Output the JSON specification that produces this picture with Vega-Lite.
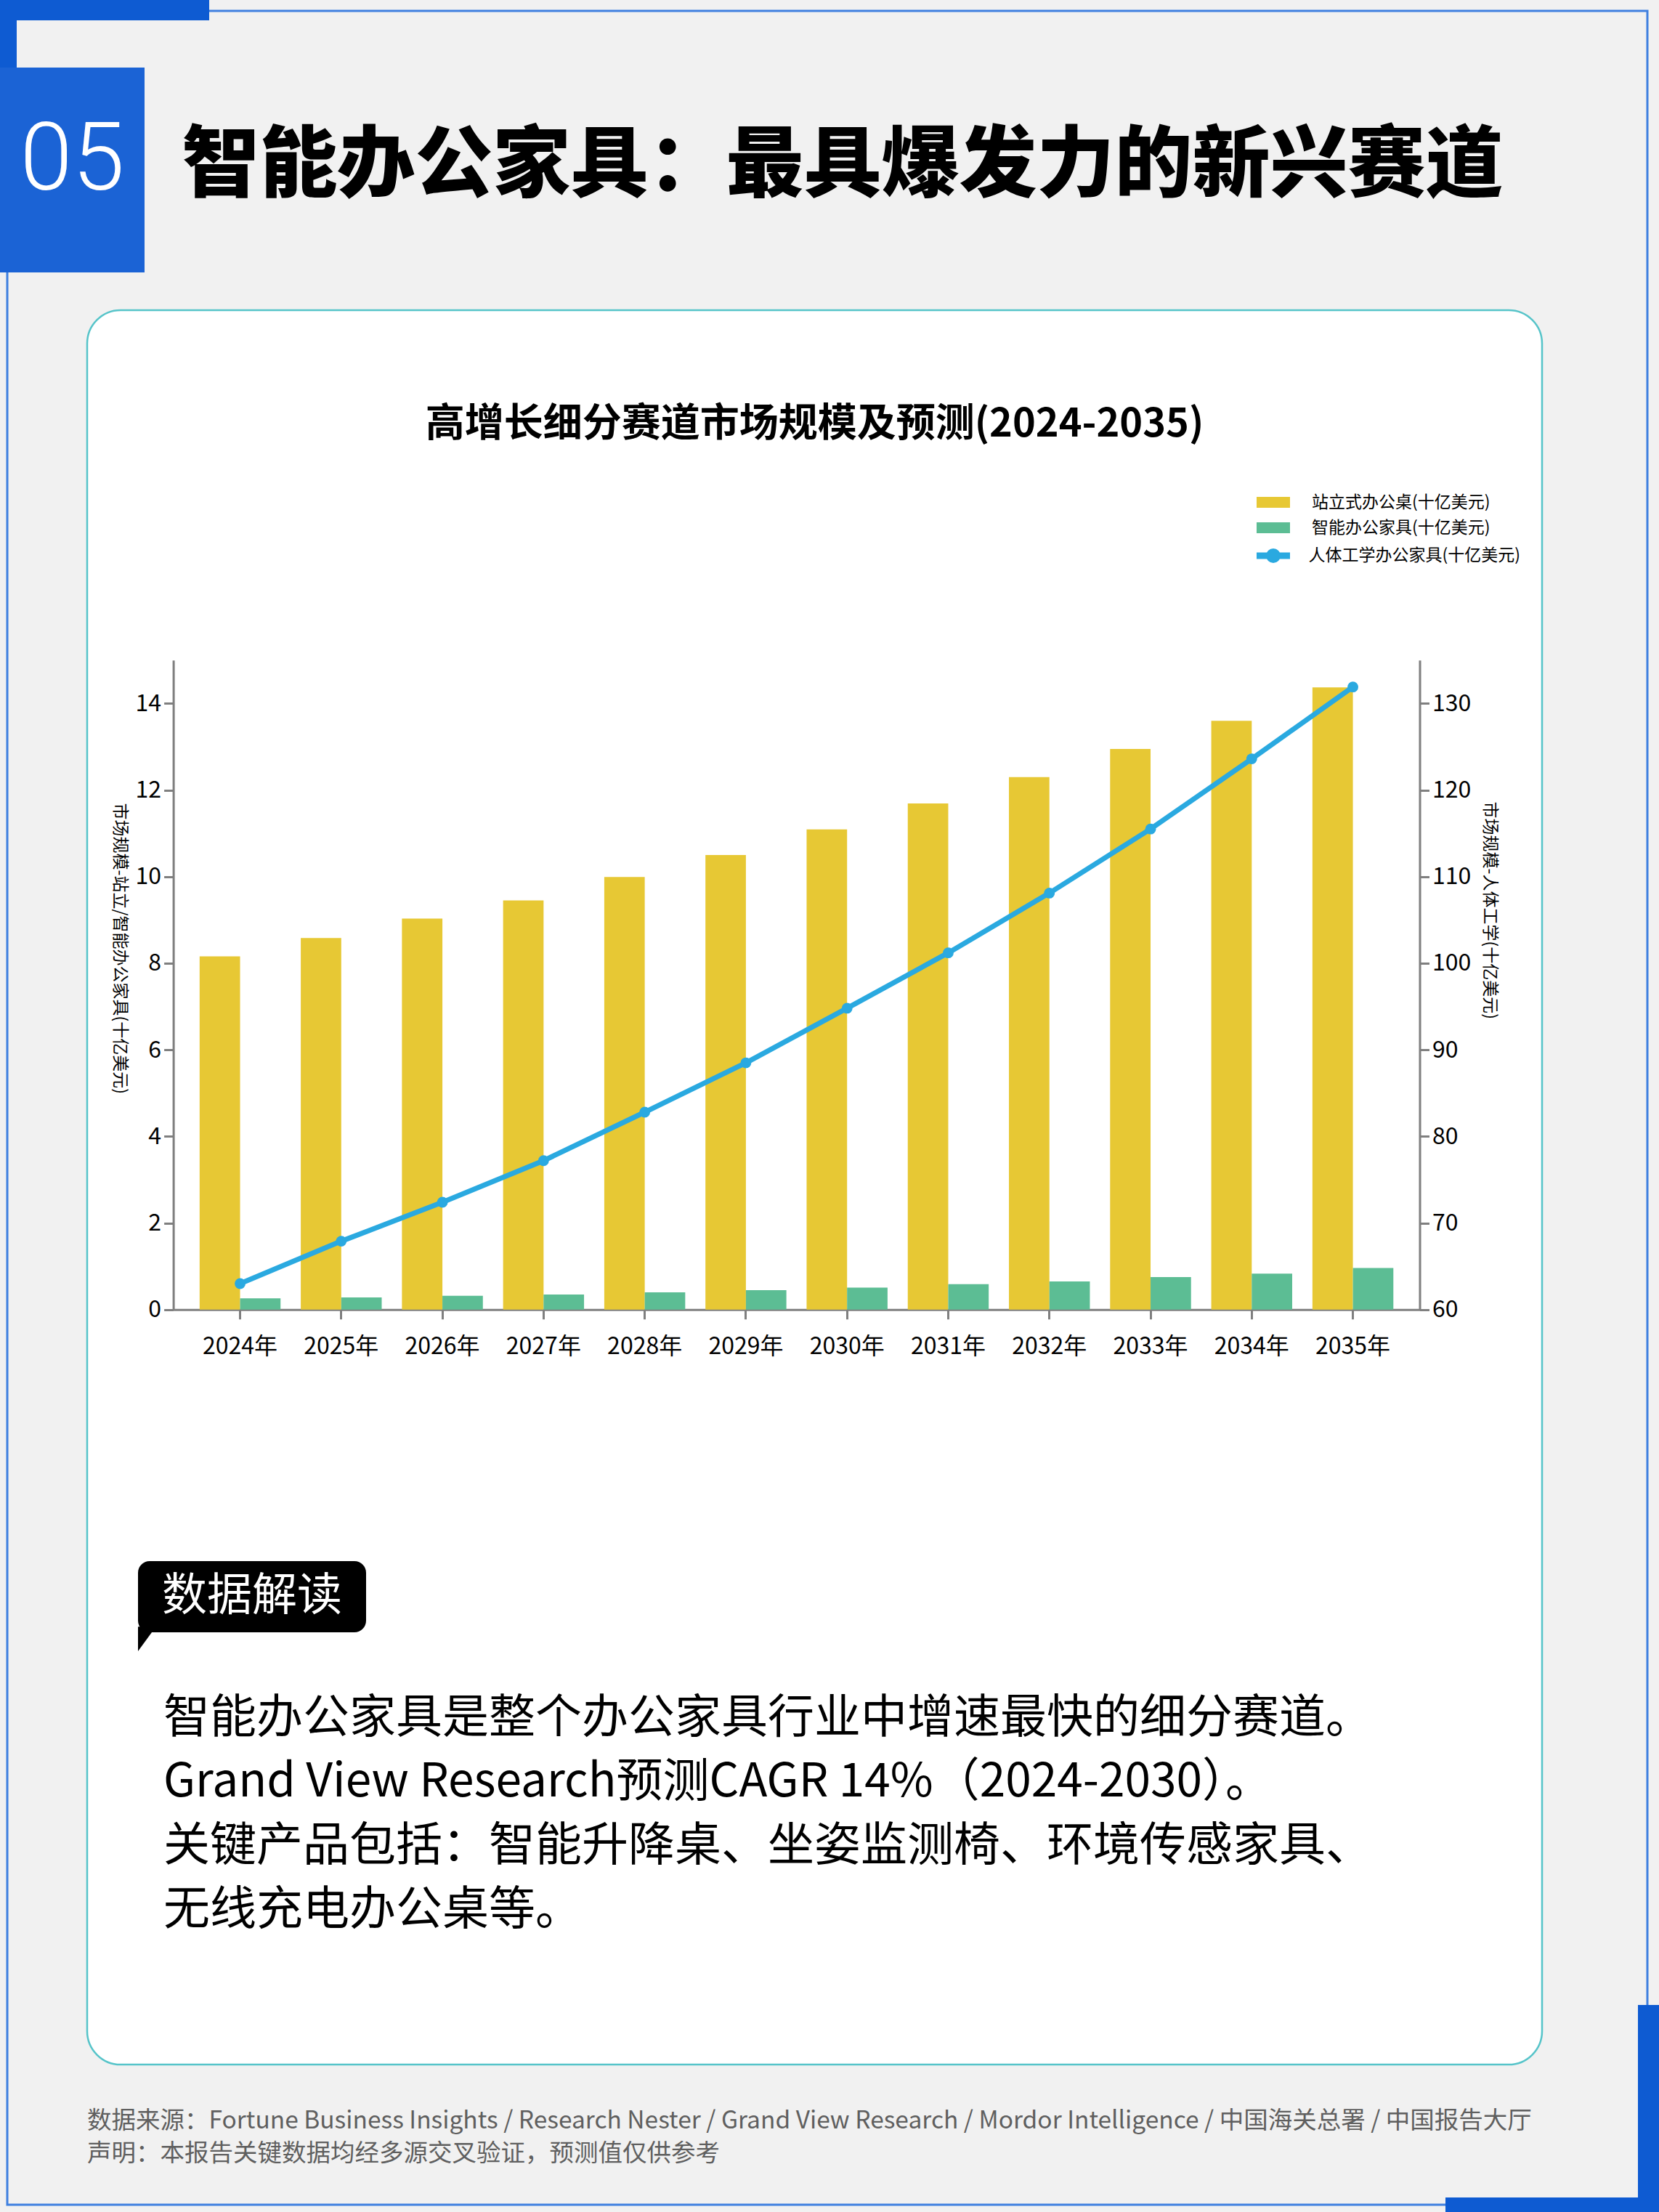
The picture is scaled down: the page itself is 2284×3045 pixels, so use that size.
{
  "$schema": "https://vega.github.io/schema/vega-lite/v6.json",
  "background": "#f1f1f1",
  "padding": 0,
  "datasets": {
    "badge": [{"num": "05"}],
    "heading": [{"text": "智能办公家具：最具爆发力的新兴赛道"}],
    "frame": [{"piece": "frame"}],
    "bars": [
      {"year": "2024年", "series": "站立式办公桌(十亿美元)", "value": 8.16},
      {"year": "2025年", "series": "站立式办公桌(十亿美元)", "value": 8.58},
      {"year": "2026年", "series": "站立式办公桌(十亿美元)", "value": 9.03},
      {"year": "2027年", "series": "站立式办公桌(十亿美元)", "value": 9.45},
      {"year": "2028年", "series": "站立式办公桌(十亿美元)", "value": 9.99},
      {"year": "2029年", "series": "站立式办公桌(十亿美元)", "value": 10.50},
      {"year": "2030年", "series": "站立式办公桌(十亿美元)", "value": 11.09},
      {"year": "2031年", "series": "站立式办公桌(十亿美元)", "value": 11.69},
      {"year": "2032年", "series": "站立式办公桌(十亿美元)", "value": 12.30},
      {"year": "2033年", "series": "站立式办公桌(十亿美元)", "value": 12.95},
      {"year": "2034年", "series": "站立式办公桌(十亿美元)", "value": 13.60},
      {"year": "2035年", "series": "站立式办公桌(十亿美元)", "value": 14.37},
      {"year": "2024年", "series": "智能办公家具(十亿美元)", "value": 0.26},
      {"year": "2025年", "series": "智能办公家具(十亿美元)", "value": 0.28},
      {"year": "2026年", "series": "智能办公家具(十亿美元)", "value": 0.32},
      {"year": "2027年", "series": "智能办公家具(十亿美元)", "value": 0.35},
      {"year": "2028年", "series": "智能办公家具(十亿美元)", "value": 0.40},
      {"year": "2029年", "series": "智能办公家具(十亿美元)", "value": 0.45},
      {"year": "2030年", "series": "智能办公家具(十亿美元)", "value": 0.51},
      {"year": "2031年", "series": "智能办公家具(十亿美元)", "value": 0.59},
      {"year": "2032年", "series": "智能办公家具(十亿美元)", "value": 0.65},
      {"year": "2033年", "series": "智能办公家具(十亿美元)", "value": 0.75},
      {"year": "2034年", "series": "智能办公家具(十亿美元)", "value": 0.83},
      {"year": "2035年", "series": "智能办公家具(十亿美元)", "value": 0.96}
    ],
    "line": [
      {"year": "2024年", "series": "人体工学办公家具(十亿美元)", "value": 63.0},
      {"year": "2025年", "series": "人体工学办公家具(十亿美元)", "value": 67.9},
      {"year": "2026年", "series": "人体工学办公家具(十亿美元)", "value": 72.4},
      {"year": "2027年", "series": "人体工学办公家具(十亿美元)", "value": 77.2},
      {"year": "2028年", "series": "人体工学办公家具(十亿美元)", "value": 82.8},
      {"year": "2029年", "series": "人体工学办公家具(十亿美元)", "value": 88.5},
      {"year": "2030年", "series": "人体工学办公家具(十亿美元)", "value": 94.8},
      {"year": "2031年", "series": "人体工学办公家具(十亿美元)", "value": 101.2},
      {"year": "2032年", "series": "人体工学办公家具(十亿美元)", "value": 108.1},
      {"year": "2033年", "series": "人体工学办公家具(十亿美元)", "value": 115.5},
      {"year": "2034年", "series": "人体工学办公家具(十亿美元)", "value": 123.6},
      {"year": "2035年", "series": "人体工学办公家具(十亿美元)", "value": 131.9}
    ],
    "tag": [{"tag": "数据解读"}],
    "para": [
      {"part": "解读", "n": 1, "text": "智能办公家具是整个办公家具行业中增速最快的细分赛道。"},
      {"part": "解读", "n": 2, "text": "Grand View Research预测CAGR 14%（2024-2030）。"},
      {"part": "解读", "n": 3, "text": "关键产品包括：智能升降桌、坐姿监测椅、环境传感家具、"},
      {"part": "解读", "n": 4, "text": "无线充电办公桌等。"}
    ],
    "footer": [
      {"part": "来源", "n": 1, "text": "数据来源：Fortune Business Insights / Research Nester / Grand View Research / Mordor Intelligence / 中国海关总署 / 中国报告大厅"},
      {"part": "来源", "n": 2, "text": "声明：本报告关键数据均经多源交叉验证，预测值仅供参考"}
    ]
  },
  "spacing": 52,
  "bounds": "flush",
  "center": true,
  "vconcat": [
    {
      "width": 2243,
      "height": 282,
      "layer": [
        {
          "data": {"name": "frame"},
          "mark": {"type": "rect", "fill": null, "stroke": "#3f80e0", "strokeWidth": 3},
          "encoding": {
            "x": {"field": "piece", "type": "nominal", "scale": {"type": "band", "range": [10, 2268], "paddingInner": 0, "paddingOuter": 0}, "axis": null},
            "y": {"field": "piece", "type": "nominal", "scale": {"type": "band", "range": [-78, 2942], "paddingInner": 0, "paddingOuter": 0}, "axis": null}
          }
        },
        {
          "data": {"name": "frame"},
          "mark": {"type": "rect", "color": "#0e5bd2", "opacity": 1},
          "encoding": {
            "x": {"field": "piece", "type": "nominal", "scale": {"type": "band", "range": [0, 288], "paddingInner": 0, "paddingOuter": 0}, "axis": null},
            "y": {"field": "piece", "type": "nominal", "scale": {"type": "band", "range": [-93, -65], "paddingInner": 0, "paddingOuter": 0}, "axis": null}
          }
        },
        {
          "data": {"name": "frame"},
          "mark": {"type": "rect", "color": "#0e5bd2", "opacity": 1},
          "encoding": {
            "x": {"field": "piece", "type": "nominal", "scale": {"type": "band", "range": [0, 23], "paddingInner": 0, "paddingOuter": 0}, "axis": null},
            "y": {"field": "piece", "type": "nominal", "scale": {"type": "band", "range": [-66, 0], "paddingInner": 0, "paddingOuter": 0}, "axis": null}
          }
        },
        {
          "data": {"name": "frame"},
          "mark": {"type": "rect", "color": "#0e5bd2", "opacity": 1},
          "encoding": {
            "x": {"field": "piece", "type": "nominal", "scale": {"type": "band", "range": [2255, 2284], "paddingInner": 0, "paddingOuter": 0}, "axis": null},
            "y": {"field": "piece", "type": "nominal", "scale": {"type": "band", "range": [2667, 2952], "paddingInner": 0, "paddingOuter": 0}, "axis": null}
          }
        },
        {
          "data": {"name": "frame"},
          "mark": {"type": "rect", "color": "#0e5bd2", "opacity": 1},
          "encoding": {
            "x": {"field": "piece", "type": "nominal", "scale": {"type": "band", "range": [1990, 2284], "paddingInner": 0, "paddingOuter": 0}, "axis": null},
            "y": {"field": "piece", "type": "nominal", "scale": {"type": "band", "range": [2932, 2952], "paddingInner": 0, "paddingOuter": 0}, "axis": null}
          }
        },
        {
          "data": {"name": "badge"},
          "mark": {"type": "rect", "color": "#1b63d5", "opacity": 1},
          "encoding": {
            "x": {"field": "num", "type": "nominal", "scale": {"type": "band", "range": [0, 199], "paddingInner": 0, "paddingOuter": 0}, "axis": null},
            "y": {"field": "num", "type": "nominal", "scale": {"type": "band", "range": [0, 282], "paddingInner": 0, "paddingOuter": 0}, "axis": null}
          }
        },
        {
          "data": {"name": "badge"},
          "mark": {"type": "text", "font": "Roboto", "fontWeight": 300, "fontSize": 130, "color": "#ffffff", "align": "center", "baseline": "middle", "dy": -12},
          "encoding": {
            "x": {"field": "num", "type": "nominal", "scale": {"type": "band", "range": [0, 199], "paddingInner": 0, "paddingOuter": 0}, "axis": null},
            "y": {"field": "num", "type": "nominal", "scale": {"type": "band", "range": [0, 282], "paddingInner": 0, "paddingOuter": 0}, "axis": null},
            "text": {"field": "num"}
          }
        },
        {
          "data": {"name": "heading"},
          "mark": {"type": "text", "fontSize": 107, "fontWeight": 900, "color": "#000000", "align": "center", "baseline": "middle", "dy": -4},
          "encoding": {
            "x": {"field": "text", "type": "nominal", "scale": {"type": "band", "range": [219, 2101], "paddingInner": 0, "paddingOuter": 0}, "axis": null},
            "y": {"field": "text", "type": "nominal", "scale": {"type": "band", "range": [0, 282], "paddingInner": 0, "paddingOuter": 0}, "axis": null},
            "text": {"field": "text"}
          }
        }
      ],
      "resolve": {"scale": {"x": "independent", "y": "independent"}}
    },
    {
      "width": 2003,
      "height": 2415,
      "view": {"fill": "#ffffff", "stroke": "#56c4c9", "strokeWidth": 2.5, "cornerRadius": 46},
      "title": {
        "text": "高增长细分赛道市场规模及预测(2024-2035)",
        "fontSize": 54,
        "fontWeight": "bold",
        "color": "#000000",
        "anchor": "middle",
        "offset": -185
      },
      "layer": [
        {
          "data": {"name": "bars"},
          "mark": {"type": "bar"},
          "encoding": {
            "x": {
              "field": "year",
              "type": "nominal",
              "scale": {"type": "band", "range": [118.6, 1834.5], "paddingInner": 0.2, "paddingOuter": 0.26},
              "axis": {
                "orient": "bottom", "offset": -1039.2, "title": null, "labelAngle": 0,
                "labelFontSize": 32, "labelColor": "#000000", "labelPadding": 23,
                "tickSize": 13, "tickWidth": 3, "tickColor": "#7f7f7f",
                "domainColor": "#7f7f7f", "domainWidth": 3, "grid": false
              }
            },
            "xOffset": {
              "field": "series",
              "type": "nominal",
              "sort": ["站立式办公桌(十亿美元)", "智能办公家具(十亿美元)"],
              "scale": {"paddingInner": 0, "paddingOuter": 0}
            },
            "y": {
              "field": "value",
              "type": "quantitative",
              "scale": {"domain": [0, 15], "range": [1375.8, 481.7], "nice": false},
              "axis": {
                "orient": "left", "offset": -118.6, "values": [0, 2, 4, 6, 8, 10, 12, 14],
                "title": "市场规模-站立/智能办公家具(十亿美元)", "titleFontSize": 23, "titleFontWeight": "normal",
                "titleColor": "#000000", "titleAngle": 90, "titleAlign": "left", "titleBaseline": "middle",
                "titleX": -74, "titleY": 678,
                "labelFontSize": 32, "labelColor": "#000000", "labelPadding": 4,
                "tickSize": 13, "tickWidth": 3, "tickColor": "#7f7f7f",
                "domainColor": "#7f7f7f", "domainWidth": 3, "grid": false
              }
            },
            "color": {
              "field": "series",
              "type": "nominal",
              "scale": {"domain": ["站立式办公桌(十亿美元)", "智能办公家具(十亿美元)"], "range": ["#e7c834", "#5cbd94"]},
              "legend": {
                "orient": "none", "legendX": 1621.5, "legendY": 253, "title": null, "padding": 0,
                "symbolType": "M-2,-0.65H2V0.65H-2Z", "symbolSize": 529, "symbolStrokeWidth": 0,
                "labelOffset": 41.5, "rowPadding": 11, "labelFontSize": 23, "labelColor": "#000000", "labelLimit": 500
              }
            }
          }
        },
        {
          "data": {"name": "line"},
          "mark": {"type": "line", "strokeWidth": 7, "point": {"filled": true, "size": 220}},
          "encoding": {
            "x": {
              "field": "year",
              "type": "nominal",
              "scale": {"type": "band", "range": [118.6, 1834.5], "paddingInner": 0.2, "paddingOuter": 0.26},
              "axis": null
            },
            "y": {
              "field": "value",
              "type": "quantitative",
              "scale": {"domain": [60, 135], "range": [1375.8, 481.7], "nice": false, "zero": false},
              "axis": {
                "orient": "right", "offset": -168.5, "values": [60, 70, 80, 90, 100, 110, 120, 130],
                "title": "市场规模-人体工学(十亿美元)", "titleFontSize": 23, "titleFontWeight": "normal",
                "titleColor": "#000000", "titleAngle": 90, "titleAlign": "left", "titleBaseline": "middle",
                "titleX": 96, "titleY": 676,
                "labelFontSize": 32, "labelColor": "#000000", "labelPadding": 4,
                "tickSize": 13, "tickWidth": 3, "tickColor": "#7f7f7f",
                "domainColor": "#7f7f7f", "domainWidth": 3, "grid": false
              }
            },
            "color": {
              "field": "series",
              "type": "nominal",
              "scale": {"domain": ["人体工学办公家具(十亿美元)"], "range": ["#2aa9e0"]},
              "legend": {
                "orient": "none", "legendX": 1617, "legendY": 322, "title": null, "padding": 0,
                "symbolType": "M-2,0H2M0.48,0A0.48,0.48,0,1,1,-0.48,0A0.48,0.48,0,1,1,0.48,0",
                "symbolSize": 529, "symbolStrokeWidth": 9,
                "labelOffset": 32.5, "labelFontSize": 23, "labelColor": "#000000", "labelLimit": 500
              }
            }
          }
        },
        {
          "data": {"name": "tag"},
          "mark": {"type": "rect", "color": "#000000", "cornerRadius": 16},
          "encoding": {
            "x": {"field": "tag", "type": "nominal", "scale": {"type": "band", "range": [70, 384], "paddingInner": 0, "paddingOuter": 0}, "axis": null},
            "y": {"field": "tag", "type": "nominal", "scale": {"type": "band", "range": [1722, 1820], "paddingInner": 0, "paddingOuter": 0}, "axis": null}
          }
        },
        {
          "data": {"name": "tag"},
          "mark": {"type": "point", "shape": "M0,-0.3L0,1L0.95,-0.3Z", "size": 2704, "filled": true, "color": "#000000", "opacity": 1},
          "encoding": {
            "x": {"field": "tag", "type": "nominal", "bandPosition": 0, "scale": {"type": "band", "range": [70, 384], "paddingInner": 0, "paddingOuter": 0}, "axis": null},
            "y": {"field": "tag", "type": "nominal", "bandPosition": 1, "scale": {"type": "band", "range": [1722, 1820], "paddingInner": 0, "paddingOuter": 0}, "axis": null}
          }
        },
        {
          "data": {"name": "tag"},
          "mark": {"type": "text", "fontSize": 62, "color": "#ffffff", "align": "center", "baseline": "middle"},
          "encoding": {
            "x": {"field": "tag", "type": "nominal", "scale": {"type": "band", "range": [70, 384], "paddingInner": 0, "paddingOuter": 0}, "axis": null},
            "y": {"field": "tag", "type": "nominal", "scale": {"type": "band", "range": [1722, 1820], "paddingInner": 0, "paddingOuter": 0}, "axis": null},
            "text": {"field": "tag"}
          }
        },
        {
          "data": {"name": "para"},
          "mark": {"type": "text", "fontSize": 64, "color": "#000000", "align": "left", "baseline": "middle"},
          "encoding": {
            "x": {"field": "part", "type": "nominal", "bandPosition": 0, "scale": {"type": "band", "range": [105, 1900], "paddingInner": 0, "paddingOuter": 0}, "axis": null},
            "y": {"field": "n", "type": "ordinal", "scale": {"type": "point", "range": [1939, 2203], "padding": 0}, "axis": null},
            "text": {"field": "text"}
          }
        }
      ],
      "resolve": {"scale": {"x": "independent", "y": "independent", "color": "independent"}}
    },
    {
      "width": 2003,
      "height": 80,
      "data": {"name": "footer"},
      "mark": {"type": "text", "fontSize": 33.5, "color": "#5f5f5f", "align": "left", "baseline": "middle"},
      "encoding": {
        "x": {"field": "part", "type": "nominal", "bandPosition": 0, "scale": {"type": "band", "paddingInner": 0, "paddingOuter": 0}, "axis": null},
        "y": {"field": "n", "type": "ordinal", "scale": {"type": "point", "range": [26, 71], "padding": 0}, "axis": null},
        "text": {"field": "text"}
      }
    }
  ],
  "config": {
    "font": "Noto Sans CJK SC",
    "view": {"stroke": null}
  }
}
